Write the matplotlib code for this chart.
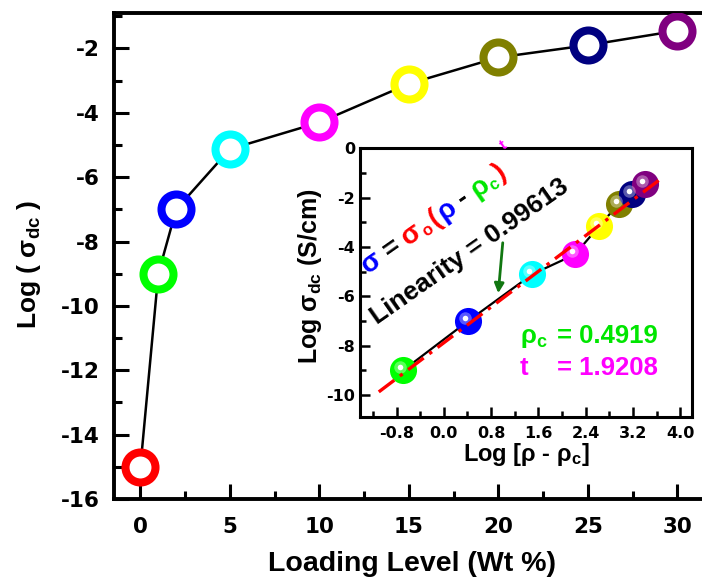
import math
import matplotlib
matplotlib.use("Agg")
import matplotlib.pyplot as plt
import matplotlib.transforms as mtransforms
from matplotlib.ticker import MultipleLocator, FuncFormatter

# main panel: dc conductivity vs filler loading
loading = [0, 1, 2, 5, 10, 15, 20, 25, 30]
log_sigma = [-15.0, -9.0, -7.0, -5.13, -4.3, -3.1, -2.28, -1.9, -1.45]
ring_colors = ['#ff0000', '#00ff00', '#0000ff', '#00ffff', '#ff00ff',
               '#ffff00', '#808000', '#000080', '#800080']

# inset: percolation scaling plot
log_rho = [-0.69, 0.41, 1.50, 2.22, 2.63, 2.96, 3.18, 3.41]
log_sigma_in = [-9.0, -7.0, -5.1, -4.3, -3.15, -2.25, -1.87, -1.45]
ball_colors = ring_colors[1:]
fit_x = [-1.1, 3.66]
fit_y = [-9.87, -1.26]

plt.rcParams['font.family'] = 'DejaVu Sans'
plt.rcParams['font.weight'] = 'bold'
plt.rcParams['axes.unicode_minus'] = False
plt.rcParams['mathtext.fontset'] = 'custom'
plt.rcParams['mathtext.rm'] = 'Liberation Sans:bold'
plt.rcParams['mathtext.it'] = 'Liberation Sans:bold'
plt.rcParams['mathtext.bf'] = 'Liberation Sans:bold'
plt.rcParams['lines.scale_dashes'] = False

LAB = 'Liberation Sans'


def colored_line(fig, x, y, pieces, angle, size):
    # place coloured pieces one after another along a rotated baseline
    r = fig.canvas.get_renderer()
    ca = math.cos(math.radians(angle))
    sa = math.sin(math.radians(angle))
    px = size * fig.dpi / 72.0
    pos = 0.0
    for s, color, scale, rise, gap in pieces:
        fs = size * scale
        tmp = fig.text(0, 0, s, fontsize=fs, family=LAB, weight='bold')
        w = tmp.get_window_extent(r).width
        tmp.remove()
        xd = x + pos * ca - rise * px * sa
        yd = y + pos * sa + rise * px * ca
        fig.text(xd, yd, s, transform=mtransforms.IdentityTransform(),
                 fontsize=fs, family=LAB, weight='bold', color=color,
                 rotation=angle, rotation_mode='anchor',
                 ha='left', va='baseline', zorder=10)
        pos += w + gap * px


def main():
    W, H = 702, 578
    fig = plt.figure(figsize=(W / 100, H / 100), dpi=100)

    # ---- main axes
    ax = fig.add_axes([0.1618, 0.1367, 0.8667, 0.8408])
    ax.plot(loading, log_sigma, color='black', lw=1.8, zorder=2)
    for x, y, c in zip(loading, log_sigma, ring_colors):
        ax.plot(x, y, 'o', ms=21.6, mfc='white', mec=c, mew=5.8, zorder=3)
    ax.set_xlim(-1.5, 32.5)
    ax.set_ylim(-16, -0.9)
    ax.xaxis.set_major_locator(MultipleLocator(5))
    ax.xaxis.set_minor_locator(MultipleLocator(2.5))
    ax.yaxis.set_major_locator(MultipleLocator(2))
    ax.yaxis.set_minor_locator(MultipleLocator(1))
    ax.tick_params(which='both', direction='in', top=False, right=False,
                   width=2.2, labelsize=15.5)
    ax.tick_params(which='major', length=10.5)
    ax.tick_params(which='minor', length=6)
    ax.tick_params(axis='x', pad=13)
    ax.tick_params(axis='y', pad=10)
    for sp in ax.spines.values():
        sp.set_linewidth(2.8)

    fig.text(412 / W, 1 - 571 / H, 'Loading Level (Wt %)', family=LAB,
             fontsize=20.5, weight='bold', ha='center', va='baseline')
    fig.text(29 / W, 1 - 264 / H, 'Log ( σ$_{dc}$ )', family=LAB,
             fontsize=19, weight='bold', rotation=90,
             ha='center', va='center')

    # ---- inset
    ins = fig.add_axes([0.5135, 0.278, 0.4722, 0.4654])
    ins.plot(log_rho, log_sigma_in, color='black', lw=1.6, zorder=2)
    tr = mtransforms.offset_copy(ins.transData, fig=fig, x=-3, y=3,
                                 units='dots')
    for x, y, c in zip(log_rho, log_sigma_in, ball_colors):
        ins.plot(x, y, 'o', ms=19.5, mfc=c, mec=c, mew=0, zorder=3)
        ins.plot(x, y, 'o', ms=9, color='white', alpha=0.35, mew=0,
                 transform=tr, zorder=3.1)
        ins.plot(x, y, 'o', ms=4, color='white', mew=0, transform=tr,
                 zorder=3.2)
    ins.plot(fit_x, fit_y, color='red', lw=2.4, dashes=(14, 5, 2.5, 5),
             zorder=4)
    ins.set_xlim(-1.41, 4.2)
    ins.set_ylim(-10.9, 0)
    ins.xaxis.set_major_locator(MultipleLocator(0.8))
    ins.xaxis.set_minor_locator(MultipleLocator(0.4))
    ins.yaxis.set_major_locator(MultipleLocator(2))
    ins.yaxis.set_minor_locator(MultipleLocator(1))
    ins.xaxis.set_major_formatter(
        FuncFormatter(lambda v, p: f"{round(v, 1) + 0.0:.1f}"))
    ins.yaxis.set_major_formatter(
        FuncFormatter(lambda v, p: f"{int(round(v))}"))
    ins.tick_params(which='both', direction='in', top=False, right=False,
                    width=1.8, labelsize=11.5)
    ins.tick_params(which='major', length=7)
    ins.tick_params(which='minor', length=4)
    ins.tick_params(axis='x', pad=6)
    ins.tick_params(axis='y', pad=4)
    for sp in ins.spines.values():
        sp.set_linewidth(2.2)

    fig.text(526 / W, 1 - 461 / H, 'Log [ρ - ρ$_c$]', family=LAB,
             fontsize=17, weight='bold', ha='center', va='baseline')
    fig.text(310 / W, 1 - 276 / H, 'Log σ$_{dc}$ (S/cm)', family=LAB,
             fontsize=18, weight='bold', rotation=90,
             ha='center', va='center')

    fig.text(377 / W, 1 - 325 / H, 'Linearity = 0.99613', family=LAB,
             fontsize=19, weight='bold', rotation=35,
             rotation_mode='anchor', ha='left', va='baseline')

    blue, red, green, mag = '#0000ff', '#ff0000', '#00e600', '#ff00ff'
    colored_line(fig, 368, H - 274, [
        ('σ', blue, 1, 0, 0.25),
        ('=', 'black', 1, 0, 0.25),
        ('σ', red, 1, 0, 0.03),
        ('o', red, 0.6, -0.12, 0.1),
        ('(', red, 1, 0, 0.04),
        ('ρ', blue, 1, 0, 0.25),
        ('-', 'black', 1, 0, 0.25),
        ('ρ', green, 1, 0, 0.03),
        ('c', green, 0.6, -0.15, 0.05),
        (')', red, 1, 0, 0.45),
        ('t', mag, 0.55, 0.85, 0),
    ], 35, 20)

    ins.annotate('', xy=(498 / W, 1 - 296 / H), xycoords='figure fraction',
                 xytext=(503 / W, 1 - 240 / H), textcoords='figure fraction',
                 arrowprops=dict(arrowstyle='-|>', color='#117711', lw=2,
                                 mutation_scale=14))

    fig.text(520 / W, 1 - 343 / H, 'ρ$_c$', family=LAB, fontsize=18.5,
             weight='bold', color=green, ha='left', va='baseline')
    fig.text(658 / W, 1 - 343 / H, '= 0.4919', family=LAB, fontsize=18.5,
             weight='bold', color=green, ha='right', va='baseline')
    fig.text(520 / W, 1 - 375 / H, 't', family=LAB, fontsize=18.5,
             weight='bold', color=mag, ha='left', va='baseline')
    fig.text(658 / W, 1 - 375 / H, '= 1.9208', family=LAB, fontsize=18.5,
             weight='bold', color=mag, ha='right', va='baseline')

    fig.savefig('out.png', dpi=100)
    return 0


if __name__ == "__main__":
    main()
